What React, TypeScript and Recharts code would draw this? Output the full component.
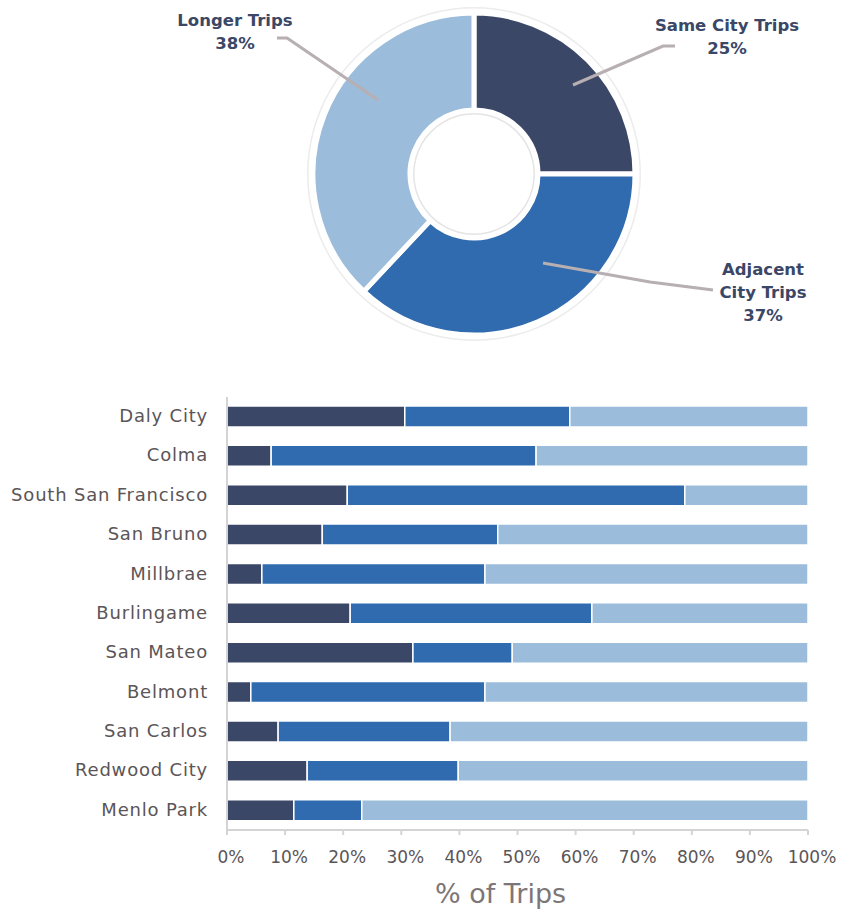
import { PieChart, Pie, Cell, BarChart, Bar, XAxis, YAxis } from "recharts";

// donut: trip type shares
const SHARE_NAMES = ["Same City Trips", "Adjacent City Trips", "Longer Trips"];
const SHARE_VALUES = [25, 37, 38];

// stacked bars: % of trips by origin city
const CITIES = [
  "Daly City",
  "Colma",
  "South San Francisco",
  "San Bruno",
  "Millbrae",
  "Burlingame",
  "San Mateo",
  "Belmont",
  "San Carlos",
  "Redwood City",
  "Menlo Park",
];
const SAME_CITY = [30.6, 7.6, 20.7, 16.4, 6.0, 21.2, 32.0, 4.1, 8.8, 13.8, 11.5];
const ADJACENT_CITY = [28.4, 45.6, 58.1, 30.2, 38.4, 41.6, 17.1, 40.3, 29.6, 26.0, 11.7];
const LONGER = [41.0, 46.8, 21.2, 53.4, 55.6, 37.2, 50.9, 55.6, 61.6, 60.2, 76.8];
const X_TICKS = [0, 10, 20, 30, 40, 50, 60, 70, 80, 90, 100];

const COLORS = ["#3b4766", "#2f6bae", "#9bbcdb"];
const FONT = "'DejaVu Sans', sans-serif";
const LABEL_COLOR = "#3b4766";
const AXIS_TEXT = "#5b5557";

const pieData = SHARE_NAMES.map((name, i) => ({ name, value: SHARE_VALUES[i] }));
const barData = CITIES.map((city, i) => ({
  city,
  same: SAME_CITY[i],
  adjacent: ADJACENT_CITY[i],
  longer: LONGER[i],
}));

// callout layout per slice, offsets from the donut centre
const CALLOUTS = [
  { path: [[99, -89], [189, -128], [201, -128]], x: 253, lines: ["Same City Trips"], y0: -149 },
  { path: [[69, 89], [176, 108], [239, 116]], x: 289, lines: ["Adjacent", "City Trips"], y0: 95 },
  { path: [[-96, -74], [-187, -136], [-197, -136]], x: -239, lines: ["Longer Trips"], y0: -154 },
];

function renderCallout(props: any) {
  const { cx, cy, index, value } = props;
  const c = CALLOUTS[index];
  const pts = c.path.map(([dx, dy]) => `${cx + dx},${cy + dy}`).join(" ");
  const rows = [...c.lines, `${value}%`];
  return (
    <g key={`callout-${index}`}>
      <polyline points={pts} fill="none" stroke="#b7afb1" strokeWidth={3} />
      {rows.map((t, i) => (
        <text
          key={i}
          x={cx + c.x}
          y={cy + c.y0 + i * 23}
          textAnchor="middle"
          dominantBaseline="central"
          fill={LABEL_COLOR}
          fontFamily={FONT}
          fontWeight={700}
          fontSize={16.5}
        >
          {t}
        </text>
      ))}
    </g>
  );
}

function AxisTitle({ viewBox }: any) {
  const { x, y, width } = viewBox;
  return (
    <text
      x={x + width / 2 - 17}
      y={y + 73}
      textAnchor="middle"
      fill="#7d7678"
      fontFamily={FONT}
      fontSize={27}
    >
      % of Trips
    </text>
  );
}

export default function App() {
  return (
    <div style={{ position: "absolute", left: 0, top: 0, width: 841, height: 909, background: "#fff" }}>
      {/* Donut */}
      <div style={{ position: "absolute", left: 0, top: 0 }}>
        <PieChart width={841} height={360} margin={{ top: 0, right: 0, bottom: 0, left: 0 }}>
          <Pie
            data={[{ value: 1 }]}
            dataKey="value"
            cx={474}
            cy={174}
            innerRadius={165.5}
            outerRadius={167}
            fill="#ececec"
            stroke="none"
            isAnimationActive={false}
          />
          <Pie
            data={pieData}
            dataKey="value"
            nameKey="name"
            cx={474}
            cy={174}
            innerRadius={64}
            outerRadius={161}
            startAngle={90}
            endAngle={-270}
            stroke="#ffffff"
            strokeWidth={5}
            label={renderCallout}
            labelLine={false}
            isAnimationActive={false}
          >
            {pieData.map((d, i) => (
              <Cell key={d.name} fill={COLORS[i]} />
            ))}
          </Pie>
          <Pie
            data={[{ value: 1 }]}
            dataKey="value"
            cx={474}
            cy={174}
            innerRadius={59.5}
            outerRadius={61}
            fill="#e4e4e4"
            stroke="none"
            isAnimationActive={false}
          />
        </PieChart>
      </div>

      {/* Stacked bars */}
      <div style={{ position: "absolute", left: 0, top: 380 }}>
        <BarChart
          width={841}
          height={529}
          data={barData}
          layout="vertical"
          margin={{ top: 17, right: 33, bottom: 19, left: 0 }}
          barSize={21}
        >
          <XAxis
            type="number"
            domain={[0, 100]}
            ticks={X_TICKS}
            tickFormatter={(v) => `${v}%`}
            axisLine={{ stroke: "#d4d4d4", strokeWidth: 2 }}
            tickLine={{ stroke: "#d4d4d4", strokeWidth: 2 }}
            tickSize={5}
            tickMargin={16}
            tick={{ fill: AXIS_TEXT, fontSize: 17, fontFamily: FONT, dx: 4 }}
            height={60}
            interval={0}
            label={<AxisTitle />}
          />
          <YAxis
            type="category"
            dataKey="city"
            width={227}
            axisLine={{ stroke: "#d4d4d4", strokeWidth: 2 }}
            tickLine={false}
            tickSize={0}
            tickMargin={19}
            tick={{ fill: AXIS_TEXT, fontSize: 18, fontFamily: FONT, letterSpacing: 0.8, dy: -1 }}
            interval={0}
          />
          <Bar dataKey="same" stackId="a" fill={COLORS[0]} stroke="#ffffff" strokeWidth={1.5} isAnimationActive={false} />
          <Bar dataKey="adjacent" stackId="a" fill={COLORS[1]} stroke="#ffffff" strokeWidth={1.5} isAnimationActive={false} />
          <Bar dataKey="longer" stackId="a" fill={COLORS[2]} stroke="#ffffff" strokeWidth={1.5} isAnimationActive={false} />
        </BarChart>
      </div>
    </div>
  );
}
